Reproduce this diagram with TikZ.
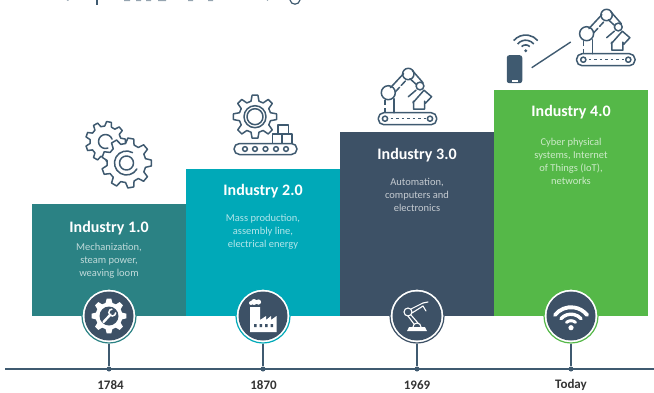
\documentclass[tikz,border=0pt]{standalone}
\usepackage{fontspec}
\setmainfont{Carlito}
\usepackage{tikz}

\definecolor{barteal}{HTML}{2B8284}
\definecolor{barcyan}{HTML}{00A9B8}
\definecolor{bardark}{HTML}{3D5166}
\definecolor{bargreen}{HTML}{55B848}
\definecolor{inkblue}{HTML}{3F5A70}

\tikzset{
    barbox/.style={rectangle, minimum width=154, inner sep=0, outer sep=0},
    bartitle/.style={text=white, font=\bfseries\fontsize{16}{18}\selectfont, inner sep=0},
    bardesc/.style={text=#1!30!white, font=\fontsize{10.5}{13}\selectfont, align=center, anchor=north, inner sep=0},
    hubring/.style={circle, draw=#1, line width=1.2, fill=white, minimum size=54, inner sep=0},
    hubdisc/.style={circle, fill=bardark, minimum size=49, inner sep=0},
    tickdot/.style={circle, fill=inkblue, minimum size=5, inner sep=0},
    yearlabel/.style={text=black!80, font=\bfseries\fontsize{13}{15}\selectfont, inner sep=0},
    iconline/.style={draw=inkblue, line width=1.5, line join=round, line cap=round},
    hubline/.style={draw=white, line width=1.1, line join=round, line cap=round},
    phonebox/.style={rectangle, rounded corners=2.5, fill=inkblue, minimum width=15.5, minimum height=28, inner sep=0}
}

% closed gear outline: outer radius, root radius, number of teeth
\newcommand{\gearoutline}[3]{
    ({-.32*360/#3}:#2) \foreach \k [evaluate=\k as \a using 360*\k/#3] in {1,...,#3} {
        -- ({\a-.32*360/#3-360/#3}:#2) -- ({\a-.17*360/#3-360/#3}:#1) -- ({\a+.17*360/#3-360/#3}:#1) -- ({\a+.32*360/#3-360/#3}:#2)
    } -- cycle
}

% robot arm over a conveyor, placed by the middle of the conveyor
\newcommand{\robotarm}[2]{
    \begin{scope}[shift={(#1,#2)}]
        \draw[iconline, rounded corners=5.5] (-29.2,-6) rectangle (29.2,6);
        \draw[iconline] (-22.5,0) circle (2.6);
        \draw[iconline] (22.5,0) circle (2.6);
        \draw[iconline, dash pattern=on 2.5 off 3, line cap=butt] (-17,0) -- (18,0);
        \draw[iconline, dash pattern=on 5 off 2.5, line cap=butt] (-22.5,-6) -- (-22.5,-20);
        \draw[iconline] (-13.5,-6) -- (-13.5,-20);
        \draw[iconline] (-17,-31) -- (-4,-45);
        \draw[iconline, dash pattern=on 6 off 2.5] (-12,-27) -- (-0.5,-39.5);
        \draw[iconline] (5,-48) -- (15.5,-36);
        \draw[iconline] (2.5,-40) -- (8.5,-34.5);
        \draw[iconline] (-19.2,-26) circle (7);
        \draw[iconline] (0.8,-44.7) circle (5.7);
        \draw[iconline] (12.5,-32.7) circle (3.9);
        \draw[iconline] (0.8,-22) -- (8.5,-28.5) (16.5,-28.5) -- (24.1,-22) -- (18,-15.5) -- (17,-17.5) -- (17,-9.5) -- (6,-9.5) -- (6,-17.5) -- (5.5,-16) -- cycle;
    \end{scope}
}

\begin{document}
\begin{tikzpicture}[x=1pt, y=-1pt]
    \useasboundingbox (0,0) rectangle (654,392);

    % cut off title
    \draw[inkblue, line width=1.4] (97,0) -- (97,5);
    \draw[inkblue!55, line width=1] (67,0) -- (68.5,0.5) (124,0.5) -- (130,0.5) (136,0.5) -- (141,0.5) (146,0.5) -- (151,0.5) (158,0.5) -- (166,0.5) (188,0.5) -- (193,0.5) (208,0.5) -- (213,0.5) (267,0) -- (268,0.5);
    \draw[inkblue, line width=1.2] (290,0) .. controls (291,5.5) and (299,5.5) .. (300,0);

    % steps
    \node[barbox, fill=barteal, minimum height=112] (Bar1) at (109,260) {};
    \node[barbox, fill=barcyan, minimum height=147] (Bar2) at (263,242.5) {};
    \node[barbox, fill=bardark, minimum height=184] (Bar3) at (417,224) {};
    \node[barbox, fill=bargreen, minimum height=226] (Bar4) at (571,203) {};

    \node[bartitle] (Title1) at (109,228.5) {Industry 1.0};
    \node[bartitle] (Title2) at (263,191.5) {Industry 2.0};
    \node[bartitle] (Title3) at (417,155.5) {Industry 3.0};
    \node[bartitle] (Title4) at (571,112.5) {Industry 4.0};

    \node[bardesc=barteal] (Desc1) at (109,243.5) {Mechanization,\\steam power,\\weaving loom};
    \node[bardesc=barcyan] (Desc2) at (263,214.5) {Mass production,\\assembly line,\\electrical energy};
    \node[bardesc=bardark] (Desc3) at (417,178) {Automation,\\computers and\\electronics};
    \node[bardesc=bargreen] (Desc4) at (571,138.5) {Cyber physical\\systems, Internet\\of Things (IoT),\\networks};

    % time axis
    \coordinate (AxisL) at (5,369);
    \coordinate (AxisR) at (654,369);
    \draw[inkblue, line width=1.2] (AxisL) -- (AxisR);

    \node[hubring=barteal] (Ring1) at (109,316) {};
    \node[hubring=barcyan] (Ring2) at (263,316) {};
    \node[hubring=bardark] (Ring3) at (417,316) {};
    \node[hubring=bargreen] (Ring4) at (571,316) {};

    \node[tickdot] (Dot1) at (109,369) {};
    \node[tickdot] (Dot2) at (263,369) {};
    \node[tickdot] (Dot3) at (417,369) {};
    \node[tickdot] (Dot4) at (571,369) {};

    \draw[inkblue, line width=1.3] (Ring1) -- (Dot1);
    \draw[inkblue, line width=1.3] (Ring2) -- (Dot2);
    \draw[inkblue, line width=1.3] (Ring3) -- (Dot3);
    \draw[inkblue, line width=1.3] (Ring4) -- (Dot4);

    \node[hubdisc] (Disc1) at (109,316) {};
    \node[hubdisc] (Disc2) at (263,316) {};
    \node[hubdisc] (Disc3) at (417,316) {};
    \node[hubdisc] (Disc4) at (571,316) {};

    \node[yearlabel] (Year1) at (110.5,385) {1784};
    \node[yearlabel] (Year2) at (263.5,385) {1870};
    \node[yearlabel] (Year3) at (417,385) {1969};
    \node[yearlabel] (Year4) at (571,385) {Today};

    % icons in the discs
    \begin{scope}[shift={(Disc1.center)}]
        \fill[white, line join=round] \gearoutline{17.5}{13.5}{8};
        \fill[bardark] (0,0) circle (9.5);
        \draw[white, line width=2.4, line cap=round] (-5.5,6) -- (1.5,-1.5);
        \draw[white, line width=1.5] (6.8,-3.5) arc (0:270:3.5);
    \end{scope}
    \begin{scope}[shift={(Disc2.center)}]
        \fill[white] (-13,16) -- (-13,-9) -- (-3,-9) -- (-3,4) -- (3,0) -- (3,4) -- (8,0) -- (8,4) -- (13.5,0) -- (13.5,16) -- cycle;
        \fill[white] (-9,-14) circle (3) (-4.5,-14) circle (2.6) (-12,-13) circle (2);
        \fill[bardark] (-9,8) rectangle (-6.5,11) (-3.5,8) rectangle (-1,11) (2,8) rectangle (4.5,11) (7.5,8) rectangle (10,11);
    \end{scope}
    \begin{scope}[shift={(Disc3.center)}]
        \fill[white] (-10,15) -- (-8,11) -- (8,11) -- (10,15) -- cycle;
        \draw[hubline] (-4,11) arc (180:360:4);
        \draw[hubline] (-9,-4) circle (4);
        \draw[hubline] (-6,-7) -- (6,-13) (-5,-3) -- (6,-10);
        \draw[hubline] (-9,0) -- (-3,8) (-6,-1) -- (1,7);
        \draw[hubline] (6,-13) -- (11,-14) (6,-10) -- (9,-5);
    \end{scope}
    \begin{scope}[shift={(Disc4.center)}]
        \draw[white, line width=3.8, line cap=round] (0,11.7) ++(-142:20.5) arc (-142:-38:20.5);
        \draw[white, line width=3.4, line cap=round] (0,11.7) ++(-138:13.5) arc (-138:-42:13.5);
        \draw[white, line width=3, line cap=round] (0,11.7) ++(-130:7) arc (-130:-50:7);
        \fill[white] (0,11.7) circle (2.6);
    \end{scope}

    % outline icons over the steps
    \begin{scope}[shift={(105.5,141.5)}]
        \draw[iconline] \gearoutline{20}{15.5}{9};
        \draw[iconline] (-20:7) arc (-20:-290:7);
    \end{scope}
    \begin{scope}[shift={(126.5,163)}]
        \draw[iconline, fill=white] \gearoutline{25}{19.5}{9};
        \draw[iconline] (30:12) arc (30:300:12);
        \draw[iconline] (0,0) circle (7);
    \end{scope}

    \begin{scope}[shift={(255,116.7)}]
        \draw[iconline] \gearoutline{21.7}{16}{8};
        \draw[iconline] (0,0) circle (11);
        \draw[iconline] (0,0) circle (8);
    \end{scope}
    \draw[iconline, fill=white] (278,125) rectangle (288.5,134);
    \draw[iconline, fill=white] (272.5,134) rectangle (282,143.5);
    \draw[iconline, fill=white] (282,134) rectangle (292,143.5);
    \draw[iconline, rounded corners=5.5] (234,143.5) rectangle (297,154.5);
    \foreach \px in {245,255,265.5,276,286} {
        \draw[iconline] (\px,149) circle (2.4);
    }

    \robotarm{407.5}{118.7}
    \robotarm{605.8}{59.7}

    \node[phonebox] (Phone) at (514.5,69.2) {};
    \fill[white] (511.5,79.7) rectangle (517.5,81.7);
    \begin{scope}[shift={(525.7,50.7)}]
        \draw[inkblue, line width=1.6] (-140:15.7) arc (-140:-40:15.7);
        \draw[inkblue, line width=1.6] (-140:10.5) arc (-140:-40:10.5);
        \draw[inkblue, line width=1.6] (-135:5.8) arc (-135:-45:5.8);
        \fill[inkblue] (0,0) circle (1.6);
    \end{scope}
    \coordinate (LinkA) at (531.7,67.7);
    \coordinate (LinkB) at (570.7,42);
    \draw[inkblue, line width=1.4] (LinkA) -- (LinkB);
\end{tikzpicture}
\end{document}
